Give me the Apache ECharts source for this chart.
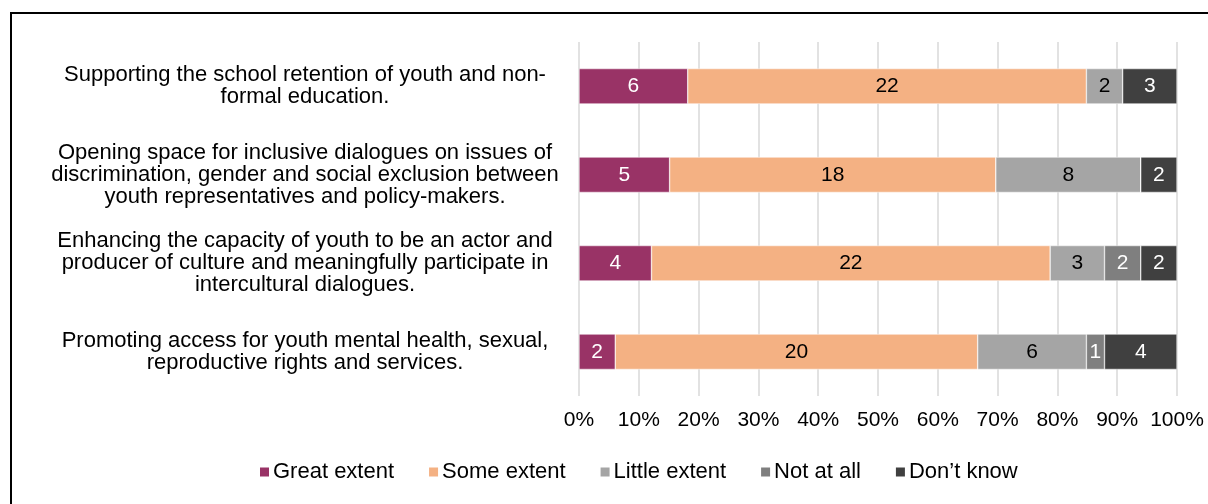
<!DOCTYPE html>
<html>
<head>
<meta charset="utf-8">
<script src="https://cdn.jsdelivr.net/npm/echarts@6/dist/echarts.min.js"></script>
<style>
  html, body { margin: 0; padding: 0; background: #fff; }
  #frame { position: absolute; left: 10px; top: 12px; width: 1300px; height: 600px; border-top: 2px solid #000; border-left: 2px solid #000; }
  #chart { position: absolute; left: 0; top: 0; width: 1208px; height: 504px; }
</style>
</head>
<body>
<div id="frame"></div>
<div id="chart"></div>
<script>
// categories as they read top to bottom
var categories = [
  'Supporting the school retention of youth and non-\nformal education.',
  'Opening space for inclusive dialogues on issues of\ndiscrimination, gender and social exclusion between\nyouth representatives and policy-makers.',
  'Enhancing the capacity of youth to be an actor and\nproducer of culture and meaningfully participate in\nintercultural dialogues.',
  'Promoting access for youth mental health, sexual,\nreproductive rights and services.'
];
var seriesNames = ['Great extent', 'Some extent', 'Little extent', 'Not at all', 'Don\u2019t know'];
// counts of answers per category
var greatExtent = [6, 5, 4, 2];
var someExtent = [22, 18, 22, 20];
var littleExtent = [2, 8, 3, 6];
var notAtAll = [0, 0, 2, 1];
var dontKnow = [3, 2, 2, 4];

var counts = [greatExtent, someExtent, littleExtent, notAtAll, dontKnow];
var colors = ['#993366', '#f4b183', '#a5a5a5', '#7f7f7f', '#404040'];
var labelColors = ['#fff', '#000', '#000', '#fff', '#fff'];

var totals = categories.map(function(c, i) {
  var t = 0;
  for (var s = 0; s < counts.length; s++) t += counts[s][i];
  return t;
});

var series = counts.map(function(arr, s) {
  return {
    name: seriesNames[s],
    type: 'bar',
    stack: 'all',
    barWidth: '40%',
    data: arr.map(function(v, i) { return { value: v / totals[i] * 100, count: v }; }),
    itemStyle: { color: colors[s], borderColor: '#fff', borderWidth: 0.5 },
    label: {
      show: true,
      position: 'inside',
      color: labelColors[s],
      fontSize: 21,
      formatter: function(p) { return p.data.count ? String(p.data.count) : ''; }
    }
  };
});

var myChart = echarts.init(document.getElementById('chart'));
myChart.setOption({
  animation: false,
  textStyle: { fontFamily: 'Liberation Sans, Arial, sans-serif' },
  legend: {
    top: 456,
    left: 253,
    itemWidth: 11,
    itemHeight: 11,
    itemGap: 33,
    icon: 'rect',
    data: seriesNames,
    textStyle: { color: '#000', fontSize: 22, padding: [0, 0, 0, -2] }
  },
  grid: { left: 579, right: 31, top: 42, bottom: 108 },
  xAxis: {
    type: 'value',
    min: 0,
    max: 100,
    interval: 10,
    axisLine: { show: false },
    axisTick: { show: false },
    axisLabel: { color: '#000', fontSize: 21, margin: 14, formatter: '{value}%' },
    splitLine: { show: true, lineStyle: { color: '#d9d9d9', width: 1.5 } }
  },
  yAxis: {
    type: 'category',
    inverse: true,
    data: categories,
    axisLine: { show: false },
    axisTick: { show: false },
    axisLabel: { color: '#000', fontSize: 22, lineHeight: 22, align: 'center', margin: 274, padding: [4, 0, 0, 0] }
  },
  series: series
});
</script>
</body>
</html>
